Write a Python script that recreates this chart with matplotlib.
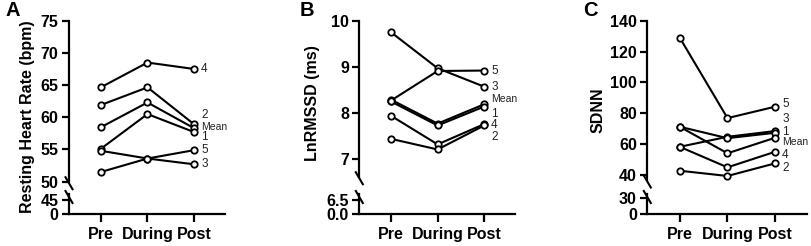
import matplotlib
matplotlib.use('Agg')
import matplotlib.pyplot as plt
from matplotlib.lines import Line2D

plt.rcParams['font.family'] = ['Liberation Sans', 'DejaVu Sans']

W, H = 812, 246
phases = ['Pre', 'During', 'Post']
series_names = ['4', '2', 'Mean', '1', '5', '3']

# Panel A - resting heart rate (bpm)
hr_4 = [64.65, 68.5, 67.5]
hr_2 = [61.9, 64.65, 58.9]
hr_mean = [58.45, 62.3, 58.3]
hr_1 = [55.1, 60.5, 57.7]
hr_5 = [51.5, 53.6, 54.9]
hr_3 = [54.8, 53.6, 52.7]
hr_label_y = [67.5, 60.35, 58.55, 57.0, 54.9, 52.7]

# Panel B - LnRMSSD (ms)
rmssd_3 = [9.75, 8.97, 8.57]
rmssd_5 = [8.27, 8.91, 8.92]
rmssd_mean = [8.29, 7.77, 8.19]
rmssd_1 = [8.25, 7.73, 8.14]
rmssd_4 = [7.94, 7.32, 7.76]
rmssd_2 = [7.44, 7.21, 7.73]
rmssd_names = ['5', '3', 'Mean', '1', '4', '2']
rmssd_label_y = [8.91, 8.56, 8.30, 7.97, 7.74, 7.49]

# Panel C - SDNN
sdnn_5 = [129.0, 76.9, 84.3]
sdnn_3 = [58.3, 64.8, 68.5]
sdnn_1 = [71.3, 63.9, 67.4]
sdnn_mean = [71.3, 54.1, 64.2]
sdnn_4 = [58.3, 45.0, 55.1]
sdnn_2 = [42.8, 39.4, 47.6]
sdnn_names = ['5', '3', '1', 'Mean', '4', '2']
sdnn_label_y = [85.8, 76.5, 68.1, 61.6, 53.0, 44.3]

panels = [
    dict(letter='A', ylabel='Resting Heart Rate (bpm)',
         series=[hr_4, hr_2, hr_mean, hr_1, hr_5, hr_3], names=series_names,
         label_y=hr_label_y, left=69, right=225, top_lim=(50, 75),
         top_ticks=[50, 55, 60, 65, 70, 75], top_fmt='{:.0f}',
         low_ticks=[0, 45], low_labels=['0', '45'], low_top=63.6,
         top_bottom_px=181.7, letter_x=6, ylab_xy=(28, 117)),
    dict(letter='B', ylabel='LnRMSSD (ms)',
         series=[rmssd_3, rmssd_5, rmssd_mean, rmssd_1, rmssd_4, rmssd_2],
         names=rmssd_names, label_y=rmssd_label_y, left=359.3, right=515,
         top_lim=(6.62, 10), top_ticks=[7, 8, 9, 10], top_fmt='{:.0f}',
         low_ticks=[0, 6.5], low_labels=['0.0', '6.5'], low_top=9.2,
         top_bottom_px=176.7, letter_x=300, ylab_xy=(313, 103)),
    dict(letter='C', ylabel='SDNN',
         series=[sdnn_5, sdnn_3, sdnn_1, sdnn_mean, sdnn_4, sdnn_2],
         names=sdnn_names, label_y=sdnn_label_y, left=647.3, right=806.7,
         top_lim=(36.8, 140), top_ticks=[40, 60, 80, 100, 120, 140],
         top_fmt='{:.0f}', low_ticks=[0, 30], low_labels=['0', '30'],
         low_top=37.6, top_bottom_px=180, letter_x=583, ylab_xy=(598, 110)),
]

fig = plt.figure(figsize=(W / 100, H / 100), dpi=100)

top_px = 20.7
low_top_px, low_bot_px = 194.0, 213.8
xlim = (-0.68, 2.66)
lw_axis = 1.6
tick_fs = 11.5

for p in panels:
    left = p['left'] / W
    width = (p['right'] - p['left']) / W
    ax = fig.add_axes([left, 1 - p['top_bottom_px'] / H, width,
                       (p['top_bottom_px'] - top_px) / H])
    axl = fig.add_axes([left, 1 - low_bot_px / H, width,
                        (low_bot_px - low_top_px) / H])

    for a in (ax, axl):
        a.set_xlim(*xlim)
        a.spines['top'].set_visible(False)
        a.spines['right'].set_visible(False)
        a.spines['left'].set_linewidth(lw_axis)
        a.spines['bottom'].set_linewidth(lw_axis)
        a.patch.set_alpha(0)
        a.tick_params(axis='y', length=5, width=lw_axis, pad=2.5,
                      labelsize=tick_fs)

    ax.spines['bottom'].set_visible(False)
    ax.set_xticks([])
    ax.set_ylim(*p['top_lim'])
    ax.set_yticks(p['top_ticks'])
    ax.set_yticklabels([p['top_fmt'].format(v) for v in p['top_ticks']],
                       fontweight='bold', fontsize=tick_fs)

    axl.set_ylim(0, p['low_top'])
    axl.set_yticks(p['low_ticks'])
    axl.set_yticklabels(p['low_labels'], fontweight='bold', fontsize=tick_fs)
    axl.set_xticks(range(len(phases)))
    axl.set_xticklabels(phases, fontweight='bold', fontsize=tick_fs)
    axl.tick_params(axis='x', length=6, width=lw_axis, pad=3.5)

    for vals, name, ly in zip(p['series'], p['names'], p['label_y']):
        ax.plot(range(len(phases)), vals, color='black', lw=1.5, marker='o',
                ms=4.6, mfc='white', mec='black', mew=1.3, clip_on=False,
                zorder=3)
        ax.annotate(name, xy=(2, ly), xytext=(5, 0), textcoords='offset points',
                    ha='left', va='center',
                    fontsize=7.5 if name == 'Mean' else 8.5,
                    color='#222222', annotation_clip=False)

    # axis break marks
    sx = p['left']
    for cy in (p['top_bottom_px'] + 1.5, low_top_px + 3):
        fig.add_artist(Line2D([(sx - 3.5) / W, (sx + 3.5) / W],
                              [1 - (cy - 6) / H, 1 - (cy + 6) / H],
                              color='black', lw=1.5))

    fig.text(p['letter_x'] / W, 1 - 10.5 / H, p['letter'], fontsize=14.5,
             fontweight='bold', ha='left', va='center')
    fig.text(p['ylab_xy'][0] / W, 1 - p['ylab_xy'][1] / H, p['ylabel'],
             rotation=90, fontsize=11.5, fontweight='bold', ha='center',
             va='center')

fig.savefig('out.png', dpi=100)
